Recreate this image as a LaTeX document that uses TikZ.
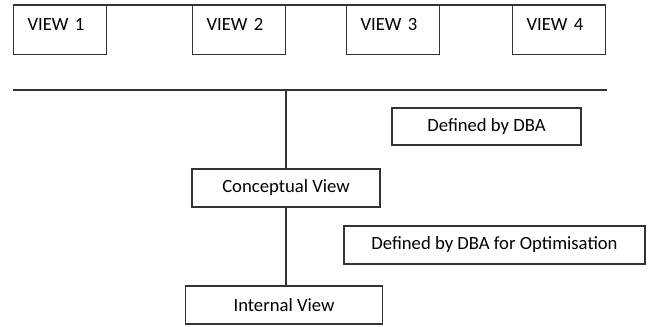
\documentclass[tikz,border=0pt]{standalone}
\usepackage{fontspec}
\setmainfont{Carlito}
\usetikzlibrary{positioning,calc}

\begin{document}
\begin{tikzpicture}[
    x=0.75pt, y=-0.75pt,
    font=\fontsize{14}{16}\selectfont,
    viewbox/.style={rectangle, draw=black!80, line width=0.8pt, anchor=north west, minimum width=69.75pt, minimum height=36.75pt, inner xsep=10.5pt, inner ysep=0pt, text width=48.75pt, align=left, text height=18.75pt, text depth=18pt},
    level/.style={rectangle, draw=black!80, line width=0.8pt, minimum height=28.5pt, align=center},
    link/.style={draw=black!80, line width=0.8pt}
]
    \useasboundingbox (0,0) rectangle (650,326);

    % External views
    \node[viewbox] (view1) at (13,5) {VIEW 1};
    \node[viewbox] (view2) at (192,5) {VIEW 2};
    \node[viewbox] (view3) at (346,5) {VIEW 3};
    \node[viewbox] (view4) at (512,5) {VIEW 4};
    \draw[link] (view1.north west) -- (view4.north east);

    % Mapping line
    \coordinate (busL) at (13,90);
    \coordinate (busR) at (607,90);
    \draw[link] (busL) -- (busR);

    % Levels
    \node[level, minimum width=141pt] (concept) at (286,188) {Conceptual View};
    \node[level, minimum width=147.75pt] (internal) at (284,305) {Internal View};
    \draw[link] (concept.north) -- (concept.north |- busL);
    \draw[link] (concept.south) -- (concept.south |- internal.north);

    % Annotations
    \node[level, minimum width=141.75pt, minimum height=27.75pt] (dba) at (486.5,126.5) {Defined by DBA};
    \node[level, minimum width=225.75pt] (dbaopt) at (494.5,245) {Defined by DBA for Optimisation};
\end{tikzpicture}
\end{document}
